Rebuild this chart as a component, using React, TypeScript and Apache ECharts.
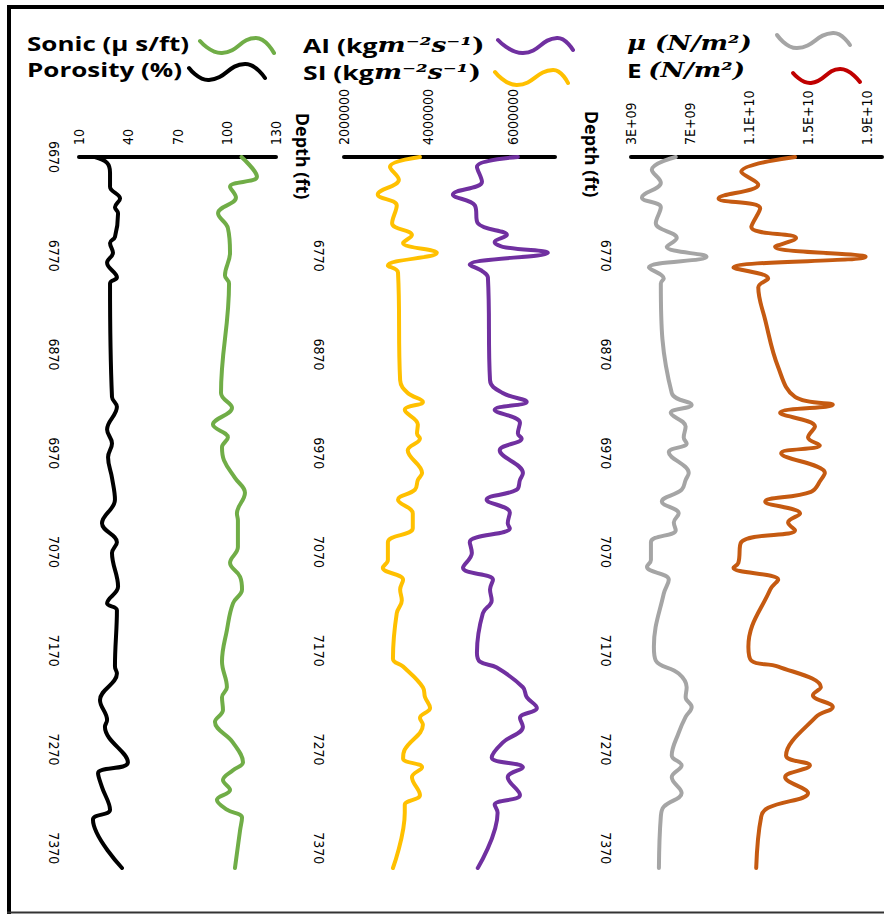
import React, { useEffect, useRef } from 'react';
import * as echarts from 'echarts';

// Depth range shared by the three log tracks (ft)
const DEPTH_MIN = 6670;
const DEPTH_MAX = 7390;

// Track 1: Sonic (µs/ft) and Porosity (%)
const sonicDepth = [6670, 6690, 6700, 6711, 6727, 6742, 6767, 6790, 6798, 6909, 6924, 6941, 6954, 6964, 6977, 6995, 7010, 7031, 7038, 7065, 7081, 7095, 7108, 7122, 7149, 7181, 7207, 7217, 7230, 7242, 7263, 7283, 7291, 7301, 7311, 7321, 7331, 7339, 7352, 7390];
const sonicValue = [109, 118.4, 102, 105.6, 94.7, 100.7, 102, 98.9, 101.4, 96.5, 103.2, 91.6, 100.7, 97.1, 98.3, 105, 111.1, 106.2, 106.8, 106.8, 102, 108.1, 109.3, 103.8, 100.1, 97.1, 100.1, 97.1, 97.7, 92.8, 103.8, 109.9, 103.8, 97.7, 102, 94, 100.1, 109.3, 108.1, 105];

const porosityDepth = [6670, 6676, 6686, 6700, 6712, 6721, 6727, 6751, 6757, 6767, 6777, 6792, 6798, 6913, 6923, 6946, 6960, 6974, 6995, 7017, 7041, 7060, 7071, 7105, 7122, 7129, 7186, 7193, 7220, 7240, 7247, 7283, 7294, 7308, 7331, 7341, 7390];
const porosityValue = [19.7, 27.1, 28.9, 28.9, 35, 31.9, 33.8, 31.9, 28.9, 30.7, 27.1, 33.1, 28.9, 30.1, 33.1, 27.1, 30.1, 27.7, 30.1, 31.9, 24, 33.1, 30.1, 33.8, 27.1, 33.1, 31.9, 33.1, 22.8, 27.1, 25.8, 39.8, 21.6, 24, 28.9, 18.5, 36.2];

// Track 2: acoustic and shear impedance (kg m^-2 s^-1)
const aiDepth = [6670, 6680, 6695, 6708, 6719, 6737, 6749, 6756, 6761, 6767, 6779, 6786, 6792, 6896, 6909, 6918, 6926, 6939, 6950, 6955, 6967, 6990, 6997, 7007, 7017, 7030, 7041, 7046, 7060, 7071, 7086, 7098, 7108, 7119, 7132, 7172, 7181, 7187, 7207, 7217, 7228, 7238, 7247, 7263, 7278, 7288, 7298, 7316, 7326, 7334, 7390];
const aiValue = [6.12e6, 5.15e6, 5.27e6, 4.58e6, 5.1e6, 5.17e6, 5.86e6, 5.57e6, 5.76e6, 6.83e6, 4.98e6, 5.29e6, 5.41e6, 5.46e6, 5.76e6, 6.33e6, 5.57e6, 6.17e6, 6.12e6, 6.21e6, 5.69e6, 6.24e6, 6.17e6, 6.09e6, 5.38e6, 5.93e6, 5.88e6, 5.93e6, 4.98e6, 5.03e6, 4.82e6, 5.53e6, 5.46e6, 5.5e6, 5.29e6, 5.15e6, 5.22e6, 5.62e6, 6.24e6, 6.33e6, 6.57e6, 6.17e6, 6.24e6, 5.76e6, 5.5e6, 6.24e6, 5.88e6, 6.17e6, 5.57e6, 5.64e6, 5.17e6];

const siDepth = [6670, 6680, 6693, 6708, 6719, 6737, 6749, 6757, 6767, 6780, 6787, 6896, 6909, 6918, 6926, 6941, 6950, 6955, 6967, 6990, 6997, 7007, 7017, 7031, 7046, 7060, 7078, 7086, 7098, 7108, 7119, 7132, 7178, 7186, 7207, 7217, 7228, 7238, 7245, 7270, 7279, 7288, 7298, 7316, 7326, 7334, 7390];
const siValue = [3.8e6, 3.09e6, 3.3e6, 2.8e6, 3.25e6, 3.14e6, 3.61e6, 3.4e6, 4.2e6, 3.04e6, 3.28e6, 3.33e6, 3.51e6, 3.87e6, 3.44e6, 3.75e6, 3.73e6, 3.8e6, 3.51e6, 3.85e6, 3.75e6, 3.68e6, 3.28e6, 3.63e6, 3.63e6, 3.04e6, 3.04e6, 2.92e6, 3.4e6, 3.33e6, 3.37e6, 3.25e6, 3.16e6, 3.4e6, 3.87e6, 3.92e6, 4.04e6, 3.8e6, 3.87e6, 3.44e6, 3.4e6, 3.85e6, 3.61e6, 3.8e6, 3.44e6, 3.44e6, 3.16e6];

// Track 3: shear modulus µ and Young's modulus E (N/m^2)
const muDepth = [6670, 6683, 6696, 6711, 6721, 6737, 6752, 6761, 6771, 6782, 6793, 6798, 6909, 6921, 6929, 6943, 6954, 6960, 6969, 6990, 6997, 7007, 7019, 7031, 7040, 7048, 7060, 7078, 7085, 7098, 7112, 7166, 7180, 7193, 7207, 7217, 7227, 7237, 7253, 7276, 7286, 7298, 7314, 7328, 7338, 7390];
const muValue = [6.03e9, 4.41e9, 5.02e9, 3.74e9, 5.02e9, 4.68e9, 6.1e9, 5.42e9, 8.12e9, 4.21e9, 5.22e9, 5.02e9, 5.76e9, 7.11e9, 5.69e9, 6.7e9, 6.57e9, 6.77e9, 5.56e9, 6.91e9, 6.7e9, 6.43e9, 5.09e9, 6.23e9, 5.9e9, 6.03e9, 4.35e9, 4.35e9, 4.08e9, 5.56e9, 5.22e9, 4.55e9, 4.68e9, 6.23e9, 6.77e9, 6.7e9, 7.11e9, 6.7e9, 6.23e9, 5.76e9, 6.43e9, 5.76e9, 6.43e9, 5.22e9, 5.02e9, 4.89e9];

const eDepth = [6670, 6685, 6698, 6712, 6722, 6741, 6752, 6761, 6771, 6782, 6793, 6802, 6835, 6883, 6913, 6921, 6929, 6943, 6954, 6962, 6970, 6990, 6997, 7009, 7019, 7031, 7040, 7048, 7060, 7081, 7086, 7098, 7108, 7166, 7180, 7186, 7207, 7215, 7227, 7237, 7276, 7286, 7298, 7314, 7329, 7338, 7390];
const eValue = [14.11e9, 10.47e9, 11.62e9, 8.93e9, 11.75e9, 11.15e9, 14.18e9, 12.76e9, 18.89e9, 9.94e9, 12.29e9, 11.62e9, 12.09e9, 12.97e9, 14.11e9, 16.67e9, 13.1e9, 15.46e9, 14.99e9, 15.79e9, 13.17e9, 16.13e9, 15.86e9, 15.19e9, 12.09e9, 14.45e9, 13.64e9, 14.11e9, 10.47e9, 10.27e9, 9.94e9, 12.97e9, 12.43e9, 10.95e9, 11.15e9, 12.97e9, 15.86e9, 15.32e9, 16.67e9, 15.53e9, 13.5e9, 15.12e9, 13.44e9, 14.99e9, 12.29e9, 11.82e9, 11.48e9];

// Tick values labelled on the value axes
const track1Ticks = [10, 40, 70, 100, 130];
const track2Ticks = [2000000, 4000000, 6000000];
const track3Ticks = [3e9, 7e9, 1.1e10, 1.5e10, 1.9e10];

const LABEL_FONT = "'Liberation Sans Narrow', 'DejaVu Sans Condensed', 'Arial Narrow', sans-serif";
const TEXT_FONT = "'Open Sans', 'Noto Sans', sans-serif";
const MATH_FONT = "'DejaVu Serif', 'Liberation Serif', serif";

const zip = (d: number[], v: number[]) => d.map((dep, i) => [v[i], dep]);

const excelSci = (v: number) => {
  const [m, e] = v.toExponential().split('e');
  const exp = Math.abs(parseInt(e, 10));
  return `${parseFloat(m)}E${parseInt(e, 10) < 0 ? '-' : '+'}${String(exp).padStart(2, '0')}`;
};

const isTick = (ticks: number[], v: number) =>
  ticks.some((t) => Math.abs(t - v) < Math.abs(t) * 1e-9 + 1e-9);

const GRID_TOP = 157;
const GRID_HEIGHT = 711;

function depthAxis(gridIndex: number, showFirst: boolean) {
  return {
    type: 'value',
    gridIndex,
    inverse: true,
    min: DEPTH_MIN,
    max: DEPTH_MAX,
    interval: 10,
    axisLine: { show: false },
    axisTick: { show: false },
    splitLine: { show: false },
    axisLabel: {
      rotate: -90,
      margin: 18,
      fontSize: 14,
      fontFamily: LABEL_FONT,
      color: '#000',
      formatter: (v: number) => {
        if ((v - DEPTH_MIN) % 100 !== 0) return '';
        if (v === DEPTH_MIN && !showFirst) return '';
        return String(v);
      },
    },
  };
}

function valueAxis(gridIndex: number, min: number, max: number, interval: number, ticks: number[], fmt: (v: number) => string) {
  return {
    type: 'value',
    gridIndex,
    position: 'top',
    min,
    max,
    interval,
    axisLine: { show: true, onZero: false, lineStyle: { color: '#000', width: 4 } },
    axisTick: { show: false },
    splitLine: { show: false },
    axisLabel: {
      rotate: -90,
      margin: 12,
      fontSize: 14,
      fontFamily: LABEL_FONT,
      color: '#000',
      showMaxLabel: true,
      formatter: (v: number) => (isTick(ticks, v) ? fmt(v) : ''),
    },
  };
}

function logLine(name: string, data: number[][], color: string, idx: number) {
  return {
    name,
    type: 'line',
    xAxisIndex: idx,
    yAxisIndex: idx,
    data,
    smooth: 0.4,
    symbol: 'none',
    showSymbol: false,
    lineStyle: { color, width: 4, cap: 'round', join: 'round' },
    itemStyle: { color },
  };
}

function wave(points: number[][], color: string) {
  return {
    type: 'polyline',
    shape: { points, smooth: 0.5 },
    style: { stroke: color, lineWidth: 4, fill: 'none', lineCap: 'round' },
  };
}

function legendText(x: number, y: number, text: string, rich: any, scaleX: number) {
  return {
    type: 'text',
    x,
    y,
    scaleX,
    style: { text, rich, align: 'left', verticalAlign: 'middle', fill: '#000' },
  };
}

const sansBold = { fontFamily: TEXT_FONT, fontWeight: 'bold', fontSize: 20, fill: '#000' };
const mathBold = { fontFamily: MATH_FONT, fontWeight: 'bold', fontStyle: 'italic', fontSize: 20, fill: '#000' };
const mathUpright = { fontFamily: MATH_FONT, fontWeight: 'bold', fontSize: 20, fill: '#000' };

export default function App() {
  const ref = useRef<HTMLDivElement>(null);

  useEffect(() => {
    if (!ref.current) return;
    const chart = echarts.init(ref.current, undefined, { renderer: 'svg' });

    const option = {
      animation: false,
      backgroundColor: '#fff',
      grid: [
        { left: 79, width: 197, top: GRID_TOP, height: GRID_HEIGHT },
        { left: 344, width: 211, top: GRID_TOP, height: GRID_HEIGHT },
        { left: 631, width: 251, top: GRID_TOP, height: GRID_HEIGHT },
      ],
      xAxis: [
        valueAxis(0, 10, 130, 10, track1Ticks, (v) => String(v)),
        valueAxis(1, 2000000, 7000000, 1000000, track2Ticks, (v) => String(v)),
        valueAxis(2, 3e9, 2e10, 1e9, track3Ticks, excelSci),
      ],
      yAxis: [depthAxis(0, true), depthAxis(1, false), depthAxis(2, false)],
      series: [
        logLine('Sonic', zip(sonicDepth, sonicValue), '#70AD47', 0),
        logLine('Porosity', zip(porosityDepth, porosityValue), '#000000', 0),
        logLine('AI', zip(aiDepth, aiValue), '#7030A0', 1),
        logLine('SI', zip(siDepth, siValue), '#FFC000', 1),
        logLine('mu', zip(muDepth, muValue), '#A5A5A5', 2),
        logLine('E', zip(eDepth, eValue), '#C55A11', 2),
      ],
      graphic: [
        // frame
        { type: 'line', shape: { x1: 9, y1: 5, x2: 9, y2: 914 }, style: { stroke: '#000', lineWidth: 4 } },
        { type: 'line', shape: { x1: 7, y1: 7, x2: 884, y2: 7 }, style: { stroke: '#000', lineWidth: 4 } },
        { type: 'line', shape: { x1: 7, y1: 912.5, x2: 884, y2: 912.5 }, style: { stroke: '#333', lineWidth: 2 } },
        // depth titles
        {
          type: 'text', x: 303, y: 156, rotation: -Math.PI / 2,
          style: { text: 'Depth (ft)', fontSize: 18, fontFamily: TEXT_FONT, fontWeight: 'bold', align: 'center', verticalAlign: 'middle', fill: '#000' },
        },
        {
          type: 'text', x: 592, y: 154, rotation: -Math.PI / 2,
          style: { text: 'Depth (ft)', fontSize: 18, fontFamily: TEXT_FONT, fontWeight: 'bold', align: 'center', verticalAlign: 'middle', fill: '#000' },
        },
        // legend: track 1
        legendText(27, 43, '{a|Sonic (μ s/ft)}', { a: sansBold }, 1.3),
        wave([[200, 41], [222, 53], [256, 38], [274, 53]], '#70AD47'),
        legendText(27, 69, '{a|Porosity (%)}', { a: sansBold }, 1.3),
        wave([[189, 68], [209, 80], [245, 64], [265, 78]], '#000000'),
        // legend: track 2
        legendText(303, 45, '{a|AI (kg}{m|m⁻²s⁻¹}{u|)}', { a: sansBold, m: mathBold, u: mathUpright }, 1.33),
        wave([[498, 40], [523, 53], [557, 38], [573, 50]], '#7030A0'),
        legendText(303, 72, '{a|SI (kg}{m|m⁻²s⁻¹}{u|)}', { a: sansBold, m: mathBold, u: mathUpright }, 1.33),
        wave([[495, 72], [517, 85], [553, 70], [568, 83]], '#FFC000'),
        // legend: track 3
        legendText(627, 43, '{m|μ (N/m²)}', { m: mathBold }, 1.3),
        wave([[777, 35], [797, 48], [833, 33], [850, 45]], '#A5A5A5'),
        legendText(627, 70, '{a|E }{m|(N/m²)}', { a: sansBold, m: mathBold }, 1.3),
        wave([[793, 73], [811, 83], [840, 69], [860, 82]], '#C00000'),
      ],
    };

    chart.setOption(option as any);
    return () => chart.dispose();
  }, []);

  return <div ref={ref} style={{ position: 'absolute', left: 0, top: 0, width: 884, height: 914 }} />;
}
